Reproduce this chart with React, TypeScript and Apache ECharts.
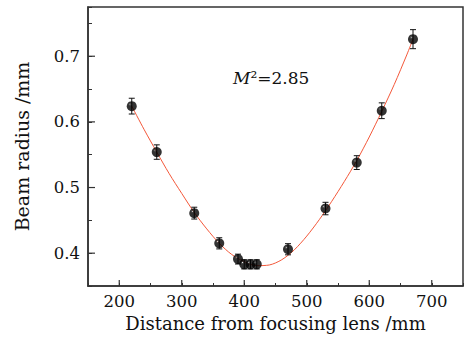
import React, { useEffect, useRef } from 'react';
import * as echarts from 'echarts';

// Measured beam radius (mm) vs distance from focusing lens (mm)
const distance = [220, 260, 320, 360, 390, 400, 410, 420, 470, 530, 580, 620, 670];
const radius = [0.624, 0.554, 0.461, 0.415, 0.391, 0.383, 0.383, 0.383, 0.406, 0.468, 0.538, 0.617, 0.726];
const radiusErr = [0.012, 0.011, 0.009, 0.0085, 0.0075, 0.007, 0.007, 0.007, 0.0085, 0.0095, 0.0105, 0.012, 0.0145];

// Fitted curve
const fitX = [220, 240, 260, 280, 300, 320, 340, 360, 380, 400, 420, 440, 460, 480, 500, 520, 540, 560, 580, 600, 620, 640, 660, 670];
const fitY = [0.624, 0.588, 0.554, 0.521, 0.491, 0.462, 0.437, 0.415, 0.398, 0.387, 0.381, 0.382, 0.390, 0.405, 0.426, 0.451, 0.479, 0.509, 0.541, 0.577, 0.616, 0.657, 0.702, 0.726];

const xMajorTicks = [200, 300, 400, 500, 600, 700];
const yMajorTicks = [0.4, 0.5, 0.6, 0.7];

const annotation = '{i|M}²=2.85';

const FONT = '"DejaVu Serif", serif';
const AXIS_COLOR = '#333333';

export default function App() {
  const ref = useRef<HTMLDivElement>(null);

  useEffect(() => {
    if (!ref.current) return;
    const chart = echarts.init(ref.current, undefined, { renderer: 'svg' });
    const xMin = 150, xMax = 750, yMin = 0.35, yMax = 0.775;

    const option: any = {
      animation: false,
      backgroundColor: '#ffffff',
      grid: {
        left: 88, top: 7, right: 6, bottom: 52,
        show: true, borderColor: AXIS_COLOR, borderWidth: 1.5, backgroundColor: 'transparent',
      },
      xAxis: {
        type: 'value', min: xMin, max: xMax, interval: 50,
        name: 'Distance from focusing lens /mm', nameLocation: 'middle', nameGap: 28,
        nameTextStyle: { fontFamily: FONT, fontSize: 18, color: '#111' },
        axisLine: { show: true, lineStyle: { color: AXIS_COLOR, width: 1.5 } },
        axisTick: { show: true, inside: true, length: 3, lineStyle: { color: AXIS_COLOR, width: 1 } },
        axisLabel: {
          fontFamily: FONT, fontSize: 16.5, color: '#111', margin: 7,
          formatter: (v: number) => (xMajorTicks.includes(Math.round(v)) && Math.abs(v - Math.round(v)) < 1e-6 ? String(Math.round(v)) : ''),
        },
        splitLine: { show: false },
      },
      yAxis: {
        type: 'value', min: yMin, max: yMax, interval: 0.05,
        name: 'Beam radius /mm', nameLocation: 'middle', nameGap: 57,
        nameTextStyle: { fontFamily: FONT, fontSize: 19, color: '#111' },
        axisLine: { show: true, lineStyle: { color: AXIS_COLOR, width: 1.5 } },
        axisTick: { show: true, inside: true, length: 4, lineStyle: { color: AXIS_COLOR, width: 1 } },
        axisLabel: {
          fontFamily: FONT, fontSize: 16.5, color: '#111', margin: 8,
          formatter: (v: number) => {
            const hit = yMajorTicks.find((t) => Math.abs(t - v) < 1e-6);
            return hit !== undefined ? hit.toFixed(1) : '';
          },
        },
        splitLine: { show: false },
      },
      graphic: [
        {
          type: 'text', left: 233, top: 69,
          style: {
            text: annotation,
            fontFamily: FONT, fontSize: 17, fill: '#111',
            rich: { i: { fontFamily: FONT, fontSize: 17, fontStyle: 'italic', fill: '#111' } },
          },
        },
      ],
      series: [
        {
          type: 'custom', name: 'xMajor', silent: true, clip: false, z: 5,
          data: xMajorTicks.map((v) => [v]),
          renderItem: (_p: any, api: any) => {
            const p = api.coord([api.value(0), yMin]);
            return { type: 'line', shape: { x1: p[0], y1: p[1], x2: p[0], y2: p[1] - 6 }, style: { stroke: AXIS_COLOR, lineWidth: 1.2 } };
          },
        },
        {
          type: 'custom', name: 'yMajor', silent: true, clip: false, z: 5,
          data: yMajorTicks.map((v) => [v]),
          renderItem: (_p: any, api: any) => {
            const p = api.coord([xMin, api.value(0)]);
            return { type: 'line', shape: { x1: p[0], y1: p[1], x2: p[0] + 7, y2: p[1] }, style: { stroke: AXIS_COLOR, lineWidth: 1.2 } };
          },
        },
        {
          type: 'line', name: 'fit', z: 2,
          data: fitX.map((x, i) => [x, fitY[i]]),
          smooth: 0.3, showSymbol: false, symbol: 'none',
          lineStyle: { color: '#f4583a', width: 1 },
        },
        {
          type: 'custom', name: 'err', silent: true, z: 3,
          data: distance.map((d, i) => [d, radius[i], radiusErr[i]]),
          renderItem: (_p: any, api: any) => {
            const x = api.value(0), y = api.value(1), e = api.value(2);
            const t = api.coord([x, y + e]);
            const b = api.coord([x, y - e]);
            const w = 3;
            const st = { stroke: '#111', lineWidth: 1 };
            return {
              type: 'group',
              children: [
                { type: 'line', shape: { x1: t[0], y1: t[1], x2: b[0], y2: b[1] }, style: st },
                { type: 'line', shape: { x1: t[0] - w, y1: t[1], x2: t[0] + w, y2: t[1] }, style: st },
                { type: 'line', shape: { x1: b[0] - w, y1: b[1], x2: b[0] + w, y2: b[1] }, style: st },
              ],
            };
          },
        },
        {
          type: 'scatter', name: 'data', z: 4,
          data: distance.map((d, i) => [d, radius[i]]),
          symbol: 'circle', symbolSize: 10,
          itemStyle: {
            color: {
              type: 'radial', x: 0.32, y: 0.32, r: 0.7,
              colorStops: [
                { offset: 0, color: '#ffffff' },
                { offset: 0.08, color: '#333333' },
                { offset: 0.25, color: '#000000' },
                { offset: 1, color: '#000000' },
              ],
            },
          },
        },
      ],
    };

    chart.setOption(option);
    return () => chart.dispose();
  }, []);

  return <div ref={ref} style={{ position: 'absolute', left: 0, top: 0, width: 469, height: 338 }} />;
}
